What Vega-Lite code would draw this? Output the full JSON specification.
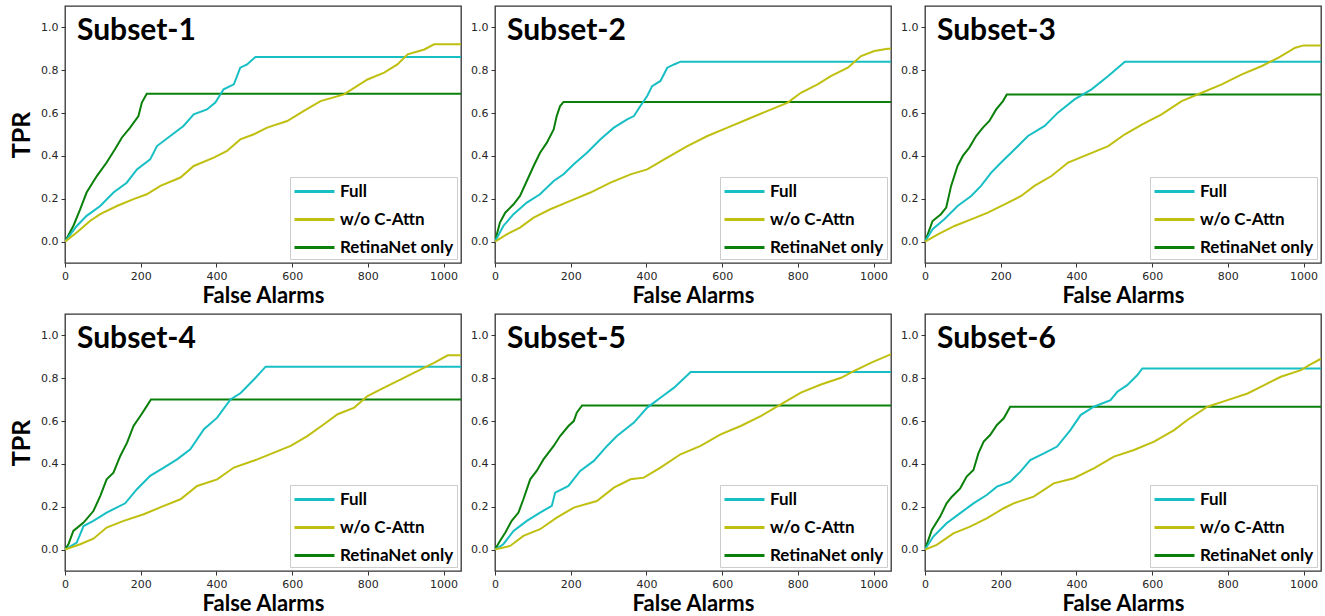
{
"$schema":"https://vega.github.io/schema/vega-lite/v6.json",
"padding":{"left":8,"top":5,"right":4,"bottom":2},
"background":"white",
"datasets":{"d":[
{"p":1,"s":"RetinaNet only","x":0,"y":0},{"p":1,"s":"RetinaNet only","x":22,"y":0.073},{"p":1,"s":"RetinaNet only","x":40,"y":0.15},{"p":1,"s":"RetinaNet only","x":57,"y":0.229},{"p":1,"s":"RetinaNet only","x":84,"y":0.306},{"p":1,"s":"RetinaNet only","x":110,"y":0.369},{"p":1,"s":"RetinaNet only","x":132,"y":0.431},{"p":1,"s":"RetinaNet only","x":150,"y":0.485},{"p":1,"s":"RetinaNet only","x":172,"y":0.532},{"p":1,"s":"RetinaNet only","x":194,"y":0.586},{"p":1,"s":"RetinaNet only","x":203,"y":0.649},{"p":1,"s":"RetinaNet only","x":216,"y":0.69},{"p":1,"s":"RetinaNet only","x":1050,"y":0.69},
{"p":1,"s":"Full","x":0,"y":0},{"p":1,"s":"Full","x":31,"y":0.073},{"p":1,"s":"Full","x":57,"y":0.12},{"p":1,"s":"Full","x":93,"y":0.166},{"p":1,"s":"Full","x":128,"y":0.229},{"p":1,"s":"Full","x":163,"y":0.275},{"p":1,"s":"Full","x":190,"y":0.337},{"p":1,"s":"Full","x":225,"y":0.384},{"p":1,"s":"Full","x":243,"y":0.446},{"p":1,"s":"Full","x":278,"y":0.493},{"p":1,"s":"Full","x":313,"y":0.54},{"p":1,"s":"Full","x":340,"y":0.594},{"p":1,"s":"Full","x":375,"y":0.617},{"p":1,"s":"Full","x":397,"y":0.649},{"p":1,"s":"Full","x":419,"y":0.711},{"p":1,"s":"Full","x":446,"y":0.734},{"p":1,"s":"Full","x":463,"y":0.812},{"p":1,"s":"Full","x":481,"y":0.827},{"p":1,"s":"Full","x":503,"y":0.862},{"p":1,"s":"Full","x":1050,"y":0.862},
{"p":1,"s":"w/o C-Attn","x":0,"y":0},{"p":1,"s":"w/o C-Attn","x":31,"y":0.042},{"p":1,"s":"w/o C-Attn","x":66,"y":0.096},{"p":1,"s":"w/o C-Attn","x":93,"y":0.128},{"p":1,"s":"w/o C-Attn","x":137,"y":0.166},{"p":1,"s":"w/o C-Attn","x":181,"y":0.198},{"p":1,"s":"w/o C-Attn","x":216,"y":0.221},{"p":1,"s":"w/o C-Attn","x":252,"y":0.26},{"p":1,"s":"w/o C-Attn","x":305,"y":0.299},{"p":1,"s":"w/o C-Attn","x":340,"y":0.353},{"p":1,"s":"w/o C-Attn","x":393,"y":0.392},{"p":1,"s":"w/o C-Attn","x":428,"y":0.423},{"p":1,"s":"w/o C-Attn","x":463,"y":0.477},{"p":1,"s":"w/o C-Attn","x":499,"y":0.501},{"p":1,"s":"w/o C-Attn","x":534,"y":0.532},{"p":1,"s":"w/o C-Attn","x":587,"y":0.563},{"p":1,"s":"w/o C-Attn","x":631,"y":0.61},{"p":1,"s":"w/o C-Attn","x":675,"y":0.656},{"p":1,"s":"w/o C-Attn","x":737,"y":0.687},{"p":1,"s":"w/o C-Attn","x":799,"y":0.757},{"p":1,"s":"w/o C-Attn","x":843,"y":0.789},{"p":1,"s":"w/o C-Attn","x":878,"y":0.827},{"p":1,"s":"w/o C-Attn","x":905,"y":0.874},{"p":1,"s":"w/o C-Attn","x":949,"y":0.897},{"p":1,"s":"w/o C-Attn","x":975,"y":0.921},{"p":1,"s":"w/o C-Attn","x":1050,"y":0.921},
{"p":2,"s":"RetinaNet only","x":0,"y":0},{"p":2,"s":"RetinaNet only","x":13,"y":0.089},{"p":2,"s":"RetinaNet only","x":27,"y":0.135},{"p":2,"s":"RetinaNet only","x":49,"y":0.174},{"p":2,"s":"RetinaNet only","x":66,"y":0.213},{"p":2,"s":"RetinaNet only","x":84,"y":0.283},{"p":2,"s":"RetinaNet only","x":102,"y":0.353},{"p":2,"s":"RetinaNet only","x":119,"y":0.415},{"p":2,"s":"RetinaNet only","x":137,"y":0.462},{"p":2,"s":"RetinaNet only","x":155,"y":0.524},{"p":2,"s":"RetinaNet only","x":163,"y":0.586},{"p":2,"s":"RetinaNet only","x":172,"y":0.633},{"p":2,"s":"RetinaNet only","x":181,"y":0.652},{"p":2,"s":"RetinaNet only","x":1050,"y":0.652},
{"p":2,"s":"Full","x":0,"y":0},{"p":2,"s":"Full","x":22,"y":0.073},{"p":2,"s":"Full","x":49,"y":0.128},{"p":2,"s":"Full","x":84,"y":0.182},{"p":2,"s":"Full","x":119,"y":0.221},{"p":2,"s":"Full","x":155,"y":0.283},{"p":2,"s":"Full","x":181,"y":0.314},{"p":2,"s":"Full","x":208,"y":0.361},{"p":2,"s":"Full","x":243,"y":0.415},{"p":2,"s":"Full","x":278,"y":0.477},{"p":2,"s":"Full","x":314,"y":0.532},{"p":2,"s":"Full","x":349,"y":0.571},{"p":2,"s":"Full","x":367,"y":0.586},{"p":2,"s":"Full","x":384,"y":0.633},{"p":2,"s":"Full","x":402,"y":0.68},{"p":2,"s":"Full","x":415,"y":0.726},{"p":2,"s":"Full","x":437,"y":0.75},{"p":2,"s":"Full","x":455,"y":0.812},{"p":2,"s":"Full","x":473,"y":0.827},{"p":2,"s":"Full","x":490,"y":0.84},{"p":2,"s":"Full","x":1050,"y":0.84},
{"p":2,"s":"w/o C-Attn","x":0,"y":0},{"p":2,"s":"w/o C-Attn","x":31,"y":0.034},{"p":2,"s":"w/o C-Attn","x":66,"y":0.065},{"p":2,"s":"w/o C-Attn","x":102,"y":0.112},{"p":2,"s":"w/o C-Attn","x":146,"y":0.151},{"p":2,"s":"w/o C-Attn","x":199,"y":0.19},{"p":2,"s":"w/o C-Attn","x":252,"y":0.229},{"p":2,"s":"w/o C-Attn","x":305,"y":0.275},{"p":2,"s":"w/o C-Attn","x":358,"y":0.314},{"p":2,"s":"w/o C-Attn","x":402,"y":0.337},{"p":2,"s":"w/o C-Attn","x":455,"y":0.392},{"p":2,"s":"w/o C-Attn","x":508,"y":0.446},{"p":2,"s":"w/o C-Attn","x":561,"y":0.493},{"p":2,"s":"w/o C-Attn","x":614,"y":0.532},{"p":2,"s":"w/o C-Attn","x":667,"y":0.571},{"p":2,"s":"w/o C-Attn","x":720,"y":0.61},{"p":2,"s":"w/o C-Attn","x":773,"y":0.649},{"p":2,"s":"w/o C-Attn","x":808,"y":0.695},{"p":2,"s":"w/o C-Attn","x":852,"y":0.734},{"p":2,"s":"w/o C-Attn","x":887,"y":0.773},{"p":2,"s":"w/o C-Attn","x":932,"y":0.812},{"p":2,"s":"w/o C-Attn","x":967,"y":0.866},{"p":2,"s":"w/o C-Attn","x":1002,"y":0.89},{"p":2,"s":"w/o C-Attn","x":1037,"y":0.9},{"p":2,"s":"w/o C-Attn","x":1050,"y":0.9},
{"p":3,"s":"RetinaNet only","x":0,"y":0},{"p":3,"s":"RetinaNet only","x":20,"y":0.096},{"p":3,"s":"RetinaNet only","x":42,"y":0.128},{"p":3,"s":"RetinaNet only","x":56,"y":0.159},{"p":3,"s":"RetinaNet only","x":69,"y":0.26},{"p":3,"s":"RetinaNet only","x":86,"y":0.353},{"p":3,"s":"RetinaNet only","x":100,"y":0.4},{"p":3,"s":"RetinaNet only","x":117,"y":0.439},{"p":3,"s":"RetinaNet only","x":135,"y":0.493},{"p":3,"s":"RetinaNet only","x":153,"y":0.532},{"p":3,"s":"RetinaNet only","x":170,"y":0.563},{"p":3,"s":"RetinaNet only","x":188,"y":0.617},{"p":3,"s":"RetinaNet only","x":206,"y":0.656},{"p":3,"s":"RetinaNet only","x":216,"y":0.687},{"p":3,"s":"RetinaNet only","x":1050,"y":0.687},
{"p":3,"s":"Full","x":0,"y":0},{"p":3,"s":"Full","x":20,"y":0.058},{"p":3,"s":"Full","x":51,"y":0.104},{"p":3,"s":"Full","x":86,"y":0.166},{"p":3,"s":"Full","x":122,"y":0.213},{"p":3,"s":"Full","x":148,"y":0.26},{"p":3,"s":"Full","x":175,"y":0.322},{"p":3,"s":"Full","x":201,"y":0.369},{"p":3,"s":"Full","x":237,"y":0.431},{"p":3,"s":"Full","x":272,"y":0.493},{"p":3,"s":"Full","x":316,"y":0.54},{"p":3,"s":"Full","x":351,"y":0.602},{"p":3,"s":"Full","x":395,"y":0.664},{"p":3,"s":"Full","x":440,"y":0.711},{"p":3,"s":"Full","x":484,"y":0.773},{"p":3,"s":"Full","x":528,"y":0.84},{"p":3,"s":"Full","x":1050,"y":0.84},
{"p":3,"s":"w/o C-Attn","x":0,"y":0},{"p":3,"s":"w/o C-Attn","x":34,"y":0.034},{"p":3,"s":"w/o C-Attn","x":78,"y":0.073},{"p":3,"s":"w/o C-Attn","x":122,"y":0.104},{"p":3,"s":"w/o C-Attn","x":166,"y":0.135},{"p":3,"s":"w/o C-Attn","x":210,"y":0.174},{"p":3,"s":"w/o C-Attn","x":254,"y":0.213},{"p":3,"s":"w/o C-Attn","x":289,"y":0.26},{"p":3,"s":"w/o C-Attn","x":334,"y":0.306},{"p":3,"s":"w/o C-Attn","x":378,"y":0.369},{"p":3,"s":"w/o C-Attn","x":431,"y":0.407},{"p":3,"s":"w/o C-Attn","x":484,"y":0.446},{"p":3,"s":"w/o C-Attn","x":528,"y":0.501},{"p":3,"s":"w/o C-Attn","x":574,"y":0.547},{"p":3,"s":"w/o C-Attn","x":625,"y":0.594},{"p":3,"s":"w/o C-Attn","x":678,"y":0.656},{"p":3,"s":"w/o C-Attn","x":731,"y":0.695},{"p":3,"s":"w/o C-Attn","x":784,"y":0.734},{"p":3,"s":"w/o C-Attn","x":837,"y":0.781},{"p":3,"s":"w/o C-Attn","x":890,"y":0.82},{"p":3,"s":"w/o C-Attn","x":934,"y":0.859},{"p":3,"s":"w/o C-Attn","x":978,"y":0.905},{"p":3,"s":"w/o C-Attn","x":1000,"y":0.916},{"p":3,"s":"w/o C-Attn","x":1050,"y":0.916},
{"p":4,"s":"RetinaNet only","x":0,"y":0},{"p":4,"s":"RetinaNet only","x":9,"y":0.025},{"p":4,"s":"RetinaNet only","x":22,"y":0.087},{"p":4,"s":"RetinaNet only","x":49,"y":0.126},{"p":4,"s":"RetinaNet only","x":75,"y":0.18},{"p":4,"s":"RetinaNet only","x":93,"y":0.25},{"p":4,"s":"RetinaNet only","x":110,"y":0.328},{"p":4,"s":"RetinaNet only","x":128,"y":0.359},{"p":4,"s":"RetinaNet only","x":146,"y":0.437},{"p":4,"s":"RetinaNet only","x":164,"y":0.499},{"p":4,"s":"RetinaNet only","x":181,"y":0.577},{"p":4,"s":"RetinaNet only","x":199,"y":0.624},{"p":4,"s":"RetinaNet only","x":216,"y":0.67},{"p":4,"s":"RetinaNet only","x":227,"y":0.701},{"p":4,"s":"RetinaNet only","x":1050,"y":0.701},
{"p":4,"s":"Full","x":0,"y":0},{"p":4,"s":"Full","x":31,"y":0.033},{"p":4,"s":"Full","x":49,"y":0.11},{"p":4,"s":"Full","x":75,"y":0.134},{"p":4,"s":"Full","x":110,"y":0.173},{"p":4,"s":"Full","x":159,"y":0.216},{"p":4,"s":"Full","x":190,"y":0.282},{"p":4,"s":"Full","x":225,"y":0.344},{"p":4,"s":"Full","x":261,"y":0.383},{"p":4,"s":"Full","x":296,"y":0.421},{"p":4,"s":"Full","x":331,"y":0.468},{"p":4,"s":"Full","x":367,"y":0.562},{"p":4,"s":"Full","x":402,"y":0.616},{"p":4,"s":"Full","x":437,"y":0.701},{"p":4,"s":"Full","x":464,"y":0.731},{"p":4,"s":"Full","x":499,"y":0.794},{"p":4,"s":"Full","x":530,"y":0.854},{"p":4,"s":"Full","x":1050,"y":0.854},
{"p":4,"s":"w/o C-Attn","x":0,"y":0},{"p":4,"s":"w/o C-Attn","x":40,"y":0.025},{"p":4,"s":"w/o C-Attn","x":75,"y":0.051},{"p":4,"s":"w/o C-Attn","x":110,"y":0.103},{"p":4,"s":"w/o C-Attn","x":155,"y":0.134},{"p":4,"s":"w/o C-Attn","x":208,"y":0.165},{"p":4,"s":"w/o C-Attn","x":261,"y":0.204},{"p":4,"s":"w/o C-Attn","x":305,"y":0.235},{"p":4,"s":"w/o C-Attn","x":349,"y":0.297},{"p":4,"s":"w/o C-Attn","x":402,"y":0.328},{"p":4,"s":"w/o C-Attn","x":446,"y":0.383},{"p":4,"s":"w/o C-Attn","x":508,"y":0.421},{"p":4,"s":"w/o C-Attn","x":552,"y":0.453},{"p":4,"s":"w/o C-Attn","x":596,"y":0.484},{"p":4,"s":"w/o C-Attn","x":640,"y":0.53},{"p":4,"s":"w/o C-Attn","x":684,"y":0.585},{"p":4,"s":"w/o C-Attn","x":720,"y":0.632},{"p":4,"s":"w/o C-Attn","x":764,"y":0.663},{"p":4,"s":"w/o C-Attn","x":799,"y":0.717},{"p":4,"s":"w/o C-Attn","x":843,"y":0.756},{"p":4,"s":"w/o C-Attn","x":887,"y":0.795},{"p":4,"s":"w/o C-Attn","x":932,"y":0.834},{"p":4,"s":"w/o C-Attn","x":976,"y":0.873},{"p":4,"s":"w/o C-Attn","x":1011,"y":0.907},{"p":4,"s":"w/o C-Attn","x":1050,"y":0.907},
{"p":5,"s":"RetinaNet only","x":0,"y":0},{"p":5,"s":"RetinaNet only","x":13,"y":0.04},{"p":5,"s":"RetinaNet only","x":27,"y":0.079},{"p":5,"s":"RetinaNet only","x":44,"y":0.134},{"p":5,"s":"RetinaNet only","x":62,"y":0.173},{"p":5,"s":"RetinaNet only","x":75,"y":0.235},{"p":5,"s":"RetinaNet only","x":93,"y":0.328},{"p":5,"s":"RetinaNet only","x":110,"y":0.367},{"p":5,"s":"RetinaNet only","x":128,"y":0.421},{"p":5,"s":"RetinaNet only","x":155,"y":0.484},{"p":5,"s":"RetinaNet only","x":172,"y":0.53},{"p":5,"s":"RetinaNet only","x":194,"y":0.577},{"p":5,"s":"RetinaNet only","x":208,"y":0.6},{"p":5,"s":"RetinaNet only","x":216,"y":0.639},{"p":5,"s":"RetinaNet only","x":230,"y":0.673},{"p":5,"s":"RetinaNet only","x":1050,"y":0.673},
{"p":5,"s":"Full","x":0,"y":0},{"p":5,"s":"Full","x":22,"y":0.025},{"p":5,"s":"Full","x":49,"y":0.087},{"p":5,"s":"Full","x":84,"y":0.134},{"p":5,"s":"Full","x":119,"y":0.173},{"p":5,"s":"Full","x":150,"y":0.204},{"p":5,"s":"Full","x":159,"y":0.266},{"p":5,"s":"Full","x":194,"y":0.297},{"p":5,"s":"Full","x":225,"y":0.367},{"p":5,"s":"Full","x":261,"y":0.414},{"p":5,"s":"Full","x":296,"y":0.484},{"p":5,"s":"Full","x":322,"y":0.53},{"p":5,"s":"Full","x":367,"y":0.593},{"p":5,"s":"Full","x":402,"y":0.663},{"p":5,"s":"Full","x":437,"y":0.709},{"p":5,"s":"Full","x":473,"y":0.756},{"p":5,"s":"Full","x":517,"y":0.829},{"p":5,"s":"Full","x":1050,"y":0.829},
{"p":5,"s":"w/o C-Attn","x":0,"y":0},{"p":5,"s":"w/o C-Attn","x":40,"y":0.017},{"p":5,"s":"w/o C-Attn","x":75,"y":0.064},{"p":5,"s":"w/o C-Attn","x":119,"y":0.095},{"p":5,"s":"w/o C-Attn","x":163,"y":0.149},{"p":5,"s":"w/o C-Attn","x":208,"y":0.196},{"p":5,"s":"w/o C-Attn","x":269,"y":0.227},{"p":5,"s":"w/o C-Attn","x":314,"y":0.289},{"p":5,"s":"w/o C-Attn","x":358,"y":0.328},{"p":5,"s":"w/o C-Attn","x":393,"y":0.336},{"p":5,"s":"w/o C-Attn","x":437,"y":0.383},{"p":5,"s":"w/o C-Attn","x":490,"y":0.445},{"p":5,"s":"w/o C-Attn","x":543,"y":0.484},{"p":5,"s":"w/o C-Attn","x":596,"y":0.538},{"p":5,"s":"w/o C-Attn","x":649,"y":0.577},{"p":5,"s":"w/o C-Attn","x":703,"y":0.624},{"p":5,"s":"w/o C-Attn","x":755,"y":0.678},{"p":5,"s":"w/o C-Attn","x":808,"y":0.733},{"p":5,"s":"w/o C-Attn","x":861,"y":0.771},{"p":5,"s":"w/o C-Attn","x":914,"y":0.802},{"p":5,"s":"w/o C-Attn","x":949,"y":0.834},{"p":5,"s":"w/o C-Attn","x":994,"y":0.873},{"p":5,"s":"w/o C-Attn","x":1050,"y":0.915},
{"p":6,"s":"RetinaNet only","x":0,"y":0},{"p":6,"s":"RetinaNet only","x":18,"y":0.092},{"p":6,"s":"RetinaNet only","x":40,"y":0.154},{"p":6,"s":"RetinaNet only","x":57,"y":0.216},{"p":6,"s":"RetinaNet only","x":71,"y":0.247},{"p":6,"s":"RetinaNet only","x":93,"y":0.286},{"p":6,"s":"RetinaNet only","x":110,"y":0.341},{"p":6,"s":"RetinaNet only","x":128,"y":0.372},{"p":6,"s":"RetinaNet only","x":141,"y":0.449},{"p":6,"s":"RetinaNet only","x":155,"y":0.504},{"p":6,"s":"RetinaNet only","x":172,"y":0.535},{"p":6,"s":"RetinaNet only","x":190,"y":0.582},{"p":6,"s":"RetinaNet only","x":208,"y":0.613},{"p":6,"s":"RetinaNet only","x":225,"y":0.667},{"p":6,"s":"RetinaNet only","x":1050,"y":0.667},
{"p":6,"s":"Full","x":0,"y":0},{"p":6,"s":"Full","x":22,"y":0.061},{"p":6,"s":"Full","x":57,"y":0.123},{"p":6,"s":"Full","x":93,"y":0.17},{"p":6,"s":"Full","x":128,"y":0.216},{"p":6,"s":"Full","x":163,"y":0.255},{"p":6,"s":"Full","x":190,"y":0.294},{"p":6,"s":"Full","x":225,"y":0.317},{"p":6,"s":"Full","x":252,"y":0.364},{"p":6,"s":"Full","x":278,"y":0.418},{"p":6,"s":"Full","x":314,"y":0.449},{"p":6,"s":"Full","x":349,"y":0.481},{"p":6,"s":"Full","x":384,"y":0.558},{"p":6,"s":"Full","x":411,"y":0.628},{"p":6,"s":"Full","x":446,"y":0.667},{"p":6,"s":"Full","x":490,"y":0.698},{"p":6,"s":"Full","x":508,"y":0.737},{"p":6,"s":"Full","x":534,"y":0.768},{"p":6,"s":"Full","x":561,"y":0.815},{"p":6,"s":"Full","x":574,"y":0.846},{"p":6,"s":"Full","x":1050,"y":0.846},
{"p":6,"s":"w/o C-Attn","x":0,"y":0},{"p":6,"s":"w/o C-Attn","x":31,"y":0.022},{"p":6,"s":"w/o C-Attn","x":75,"y":0.076},{"p":6,"s":"w/o C-Attn","x":119,"y":0.107},{"p":6,"s":"w/o C-Attn","x":163,"y":0.146},{"p":6,"s":"w/o C-Attn","x":208,"y":0.193},{"p":6,"s":"w/o C-Attn","x":234,"y":0.216},{"p":6,"s":"w/o C-Attn","x":287,"y":0.247},{"p":6,"s":"w/o C-Attn","x":340,"y":0.309},{"p":6,"s":"w/o C-Attn","x":393,"y":0.333},{"p":6,"s":"w/o C-Attn","x":446,"y":0.379},{"p":6,"s":"w/o C-Attn","x":499,"y":0.434},{"p":6,"s":"w/o C-Attn","x":552,"y":0.465},{"p":6,"s":"w/o C-Attn","x":605,"y":0.504},{"p":6,"s":"w/o C-Attn","x":658,"y":0.558},{"p":6,"s":"w/o C-Attn","x":693,"y":0.605},{"p":6,"s":"w/o C-Attn","x":746,"y":0.667},{"p":6,"s":"w/o C-Attn","x":799,"y":0.698},{"p":6,"s":"w/o C-Attn","x":852,"y":0.729},{"p":6,"s":"w/o C-Attn","x":896,"y":0.768},{"p":6,"s":"w/o C-Attn","x":940,"y":0.807},{"p":6,"s":"w/o C-Attn","x":993,"y":0.838},{"p":6,"s":"w/o C-Attn","x":1016,"y":0.862},{"p":6,"s":"w/o C-Attn","x":1050,"y":0.895}
]},
"spacing":6,
"resolve":{"legend":{"color":"independent"}},
"vconcat":[
{"spacing":7,"resolve":{"legend":{"color":"independent"}},"hconcat":[
{"data":{"name":"d"},"transform":[{"filter":"datum.p==1"}],"title":"Subset-1","width":396,"height":257,"mark":{"type":"line","clip":true,"strokeWidth":2},
"encoding":{"x":{"field":"x","type":"quantitative","scale":{"domain":[0,1046],"nice":false,"zero":false},"axis":{"title":"False Alarms","values":[0,200,400,600,800,1000],"format":"d"}},
"y":{"field":"y","type":"quantitative","scale":{"domain":[-0.1,1.1],"nice":false,"zero":false},"axis":{"title":"TPR","values":[0,0.2,0.4,0.6,0.8,1.0],"format":".1f"}},
"color":{"field":"s","type":"nominal","scale":{"domain":["Full","w/o C-Attn","RetinaNet only"],"range":["#17bfc4","#bfbf10","#0a800a"]},"legend":{"title":null}}}},
{"data":{"name":"d"},"transform":[{"filter":"datum.p==2"}],"title":"Subset-2","width":396,"height":257,"mark":{"type":"line","clip":true,"strokeWidth":2},
"encoding":{"x":{"field":"x","type":"quantitative","scale":{"domain":[0,1046],"nice":false,"zero":false},"axis":{"title":"False Alarms","values":[0,200,400,600,800,1000],"format":"d"}},
"y":{"field":"y","type":"quantitative","scale":{"domain":[-0.1,1.1],"nice":false,"zero":false},"axis":{"title":null,"values":[0,0.2,0.4,0.6,0.8,1.0],"format":".1f"}},
"color":{"field":"s","type":"nominal","scale":{"domain":["Full","w/o C-Attn","RetinaNet only"],"range":["#17bfc4","#bfbf10","#0a800a"]},"legend":{"title":null}}}},
{"data":{"name":"d"},"transform":[{"filter":"datum.p==3"}],"title":"Subset-3","width":396,"height":257,"mark":{"type":"line","clip":true,"strokeWidth":2},
"encoding":{"x":{"field":"x","type":"quantitative","scale":{"domain":[0,1046],"nice":false,"zero":false},"axis":{"title":"False Alarms","values":[0,200,400,600,800,1000],"format":"d"}},
"y":{"field":"y","type":"quantitative","scale":{"domain":[-0.1,1.1],"nice":false,"zero":false},"axis":{"title":null,"values":[0,0.2,0.4,0.6,0.8,1.0],"format":".1f"}},
"color":{"field":"s","type":"nominal","scale":{"domain":["Full","w/o C-Attn","RetinaNet only"],"range":["#17bfc4","#bfbf10","#0a800a"]},"legend":{"title":null}}}}
]},
{"spacing":7,"resolve":{"legend":{"color":"independent"}},"hconcat":[
{"data":{"name":"d"},"transform":[{"filter":"datum.p==4"}],"title":"Subset-4","width":396,"height":257,"mark":{"type":"line","clip":true,"strokeWidth":2},
"encoding":{"x":{"field":"x","type":"quantitative","scale":{"domain":[0,1046],"nice":false,"zero":false},"axis":{"title":"False Alarms","values":[0,200,400,600,800,1000],"format":"d"}},
"y":{"field":"y","type":"quantitative","scale":{"domain":[-0.1,1.1],"nice":false,"zero":false},"axis":{"title":"TPR","values":[0,0.2,0.4,0.6,0.8,1.0],"format":".1f"}},
"color":{"field":"s","type":"nominal","scale":{"domain":["Full","w/o C-Attn","RetinaNet only"],"range":["#17bfc4","#bfbf10","#0a800a"]},"legend":{"title":null}}}},
{"data":{"name":"d"},"transform":[{"filter":"datum.p==5"}],"title":"Subset-5","width":396,"height":257,"mark":{"type":"line","clip":true,"strokeWidth":2},
"encoding":{"x":{"field":"x","type":"quantitative","scale":{"domain":[0,1046],"nice":false,"zero":false},"axis":{"title":"False Alarms","values":[0,200,400,600,800,1000],"format":"d"}},
"y":{"field":"y","type":"quantitative","scale":{"domain":[-0.1,1.1],"nice":false,"zero":false},"axis":{"title":null,"values":[0,0.2,0.4,0.6,0.8,1.0],"format":".1f"}},
"color":{"field":"s","type":"nominal","scale":{"domain":["Full","w/o C-Attn","RetinaNet only"],"range":["#17bfc4","#bfbf10","#0a800a"]},"legend":{"title":null}}}},
{"data":{"name":"d"},"transform":[{"filter":"datum.p==6"}],"title":"Subset-6","width":396,"height":257,"mark":{"type":"line","clip":true,"strokeWidth":2},
"encoding":{"x":{"field":"x","type":"quantitative","scale":{"domain":[0,1046],"nice":false,"zero":false},"axis":{"title":"False Alarms","values":[0,200,400,600,800,1000],"format":"d"}},
"y":{"field":"y","type":"quantitative","scale":{"domain":[-0.1,1.1],"nice":false,"zero":false},"axis":{"title":null,"values":[0,0.2,0.4,0.6,0.8,1.0],"format":".1f"}},
"color":{"field":"s","type":"nominal","scale":{"domain":["Full","w/o C-Attn","RetinaNet only"],"range":["#17bfc4","#bfbf10","#0a800a"]},"legend":{"title":null}}}}
]}
],
"config":{
"view":{"stroke":"#333333","strokeWidth":1.3},
"axis":{"grid":false,"domain":false,"tickColor":"#333333","tickSize":4,"labelFont":"DejaVu Sans","labelFontSize":11,"labelColor":"#262626","labelPadding":3,"titleFont":"Lato","titleFontSize":22,"titleFontWeight":"bold","titleColor":"#000000"},
"axisX":{"titlePadding":4,"labelFlush":false},
"axisY":{"titlePadding":6,"titleFontSize":25},
"title":{"font":"Lato","fontSize":30,"fontWeight":"bold","color":"#000000","anchor":"start","frame":"group","offset":-40,"dx":12,"baseline":"alphabetic"},
"legend":{"orient":"bottom-right","offset":4,"padding":3,"fillColor":"white","strokeColor":"#cccccc","symbolType":"M-1,0H3","symbolSize":400,"symbolStrokeWidth":3,"labelFont":"Lato","labelFontWeight":"bold","labelFontSize":17,"labelColor":"#000000","labelOffset":24,"rowPadding":8,"labelLimit":300}
}
}
